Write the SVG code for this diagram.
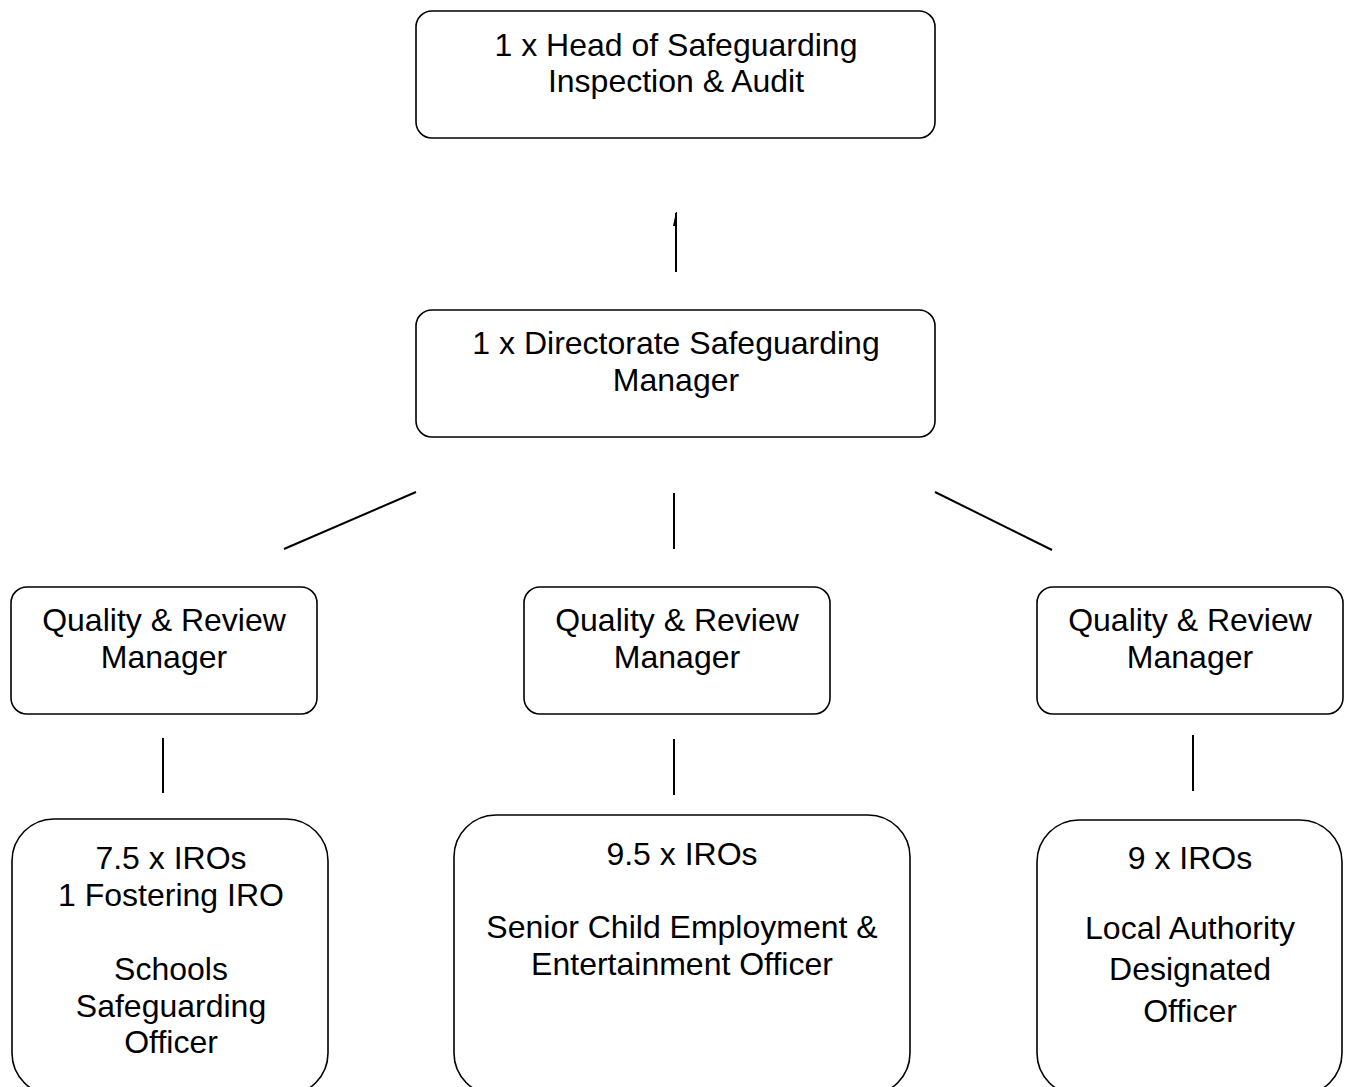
<svg xmlns="http://www.w3.org/2000/svg" width="1349" height="1087" viewBox="0 0 1349 1087">
<style>
.box{fill:#fff;stroke:#000;stroke-width:1.6}
.ln{stroke:#000;stroke-width:2;fill:none}
text{font-family:"Liberation Sans",Arial,sans-serif;font-size:32px;fill:#000;text-anchor:middle}
</style>
<rect width="1349" height="1087" fill="#fff"/>
<g id="connectors">
<line class="ln" x1="676" y1="213" x2="676" y2="272"/>
<polygon points="676,212 677,212 677,226 673,226" fill="#000"/>
<line class="ln" x1="416" y1="492" x2="284" y2="549"/>
<line class="ln" x1="674" y1="493" x2="674" y2="549"/>
<line class="ln" x1="935" y1="492" x2="1052" y2="550"/>
<line class="ln" x1="163" y1="738" x2="163" y2="793"/>
<line class="ln" x1="674" y1="739" x2="674" y2="795"/>
<line class="ln" x1="1193" y1="735" x2="1193" y2="791"/>
</g>
<g id="head">
<rect class="box" x="416" y="11" width="519" height="127" rx="16"/>
<text x="676" y="56">1 x Head of Safeguarding</text>
<text x="676" y="92">Inspection &amp; Audit</text>
</g>
<g id="directorate">
<rect class="box" x="416" y="310" width="519" height="127" rx="16"/>
<text x="676" y="354">1 x Directorate Safeguarding</text>
<text x="676" y="391">Manager</text>
</g>
<g id="qrm1">
<rect class="box" x="11" y="587" width="306" height="127" rx="16"/>
<text x="164" y="631">Quality &amp; Review</text>
<text x="164" y="668">Manager</text>
</g>
<g id="qrm2">
<rect class="box" x="524" y="587" width="306" height="127" rx="16"/>
<text x="677" y="631">Quality &amp; Review</text>
<text x="677" y="668">Manager</text>
</g>
<g id="qrm3">
<rect class="box" x="1037" y="587" width="306" height="127" rx="16"/>
<text x="1190" y="631">Quality &amp; Review</text>
<text x="1190" y="668">Manager</text>
</g>
<g id="team1">
<rect class="box" x="12" y="819" width="316" height="276" rx="42"/>
<text x="171" y="869">7.5 x IROs</text>
<text x="171" y="906">1 Fostering IRO</text>
<text x="171" y="980">Schools</text>
<text x="171" y="1017">Safeguarding</text>
<text x="171" y="1053">Officer</text>
</g>
<g id="team2">
<rect class="box" x="454" y="815" width="456" height="280" rx="42"/>
<text x="682" y="865">9.5 x IROs</text>
<text x="682" y="938">Senior Child Employment &amp;</text>
<text x="682" y="975">Entertainment Officer</text>
</g>
<g id="team3">
<rect class="box" x="1037" y="820" width="305" height="275" rx="42"/>
<text x="1190" y="869">9 x IROs</text>
<text x="1190" y="939">Local Authority</text>
<text x="1190" y="980">Designated</text>
<text x="1190" y="1022">Officer</text>
</g>
</svg>
